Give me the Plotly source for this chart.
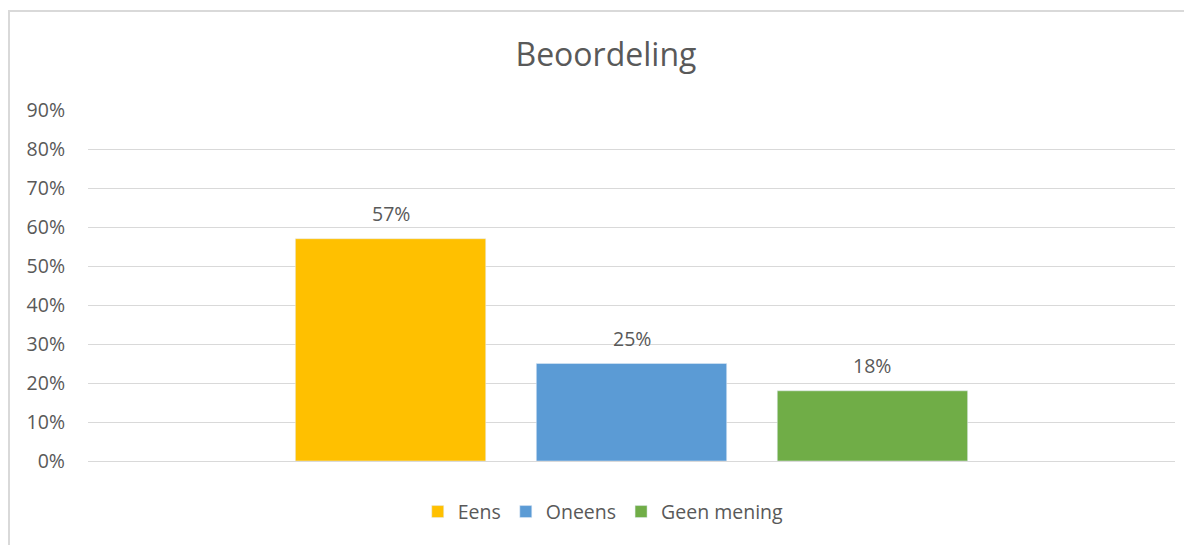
import plotly.graph_objects as go

categories = ["Beoordeling"]
series_names = ["Eens", "Oneens", "Geen mening"]
series_values = [[0.57], [0.25], [0.18]]
series_colors = ["#FFC000", "#5B9BD5", "#70AD47"]
tick_vals = [0, 0.1, 0.2, 0.3, 0.4, 0.5, 0.6, 0.7, 0.8, 0.9]
tick_text = ["0%", "10%", "20%", "30%", "40%", "50%", "60%", "70%", "80%", "90%"]

FONT = "'Open Sans', Lato, sans-serif"
GRAY = "#595959"

W, H = 1184, 537
ML, MR, MT, MB = 80, 17, 102, 84
PW = W - ML - MR
PH = H - MT - MB
BARGAP = 0.335
slot_px = PW * (1 - BARGAP) / len(series_names)

fig = go.Figure()
annotations = []
for i, (name, vals, col) in enumerate(zip(series_names, series_values, series_colors)):
    fig.add_trace(go.Bar(x=categories, y=vals, name=name, marker_color=col))
    for c, v in zip(categories, vals):
        annotations.append(dict(
            x=c, y=v, xref="x", yref="y", text=f"{round(v*100)}%", showarrow=False,
            xshift=(i - (len(series_names) - 1) / 2) * slot_px, yshift=25,
            font=dict(size=19.5, color=GRAY, family=FONT)))

fig.update_layout(
    width=W, height=H,
    margin=dict(l=ML, r=MR, t=MT, b=MB),
    paper_bgcolor="white", plot_bgcolor="white",
    barmode="group", bargap=BARGAP, bargroupgap=0.21,
    title=dict(text="Beoordeling", x=0.505, xanchor="center", y=1 - 47/H, yanchor="middle",
               yref="container", font=dict(size=32, color=GRAY, family=FONT)),
    font=dict(family=FONT, color=GRAY),
    showlegend=True,
    legend=dict(orientation="h", x=0.474, xanchor="center", y=-0.145, yanchor="middle",
                font=dict(size=19.5, color=GRAY, family=FONT), itemwidth=30,
                traceorder="normal"),
    xaxis=dict(showticklabels=False, showgrid=False, showline=False, zeroline=False),
    yaxis=dict(range=[0, 0.9], tickvals=tick_vals, ticktext=tick_text,
               showgrid=True, gridcolor="#D9D9D9", gridwidth=1,
               zeroline=True, zerolinecolor="#D9D9D9", zerolinewidth=1,
               tickfont=dict(size=19.5, color=GRAY, family=FONT), ticks="", ticklabelstandoff=22),
    annotations=annotations,
    shapes=[dict(type="rect", xref="paper", yref="paper",
                 x0=(9-88)/PW, x1=1.2, y0=-0.6, y1=(461-11)/PH,
                 line=dict(color="#D9D9D9", width=2), fillcolor="rgba(0,0,0,0)", layer="below")],
)

fig.write_html("out.html")
